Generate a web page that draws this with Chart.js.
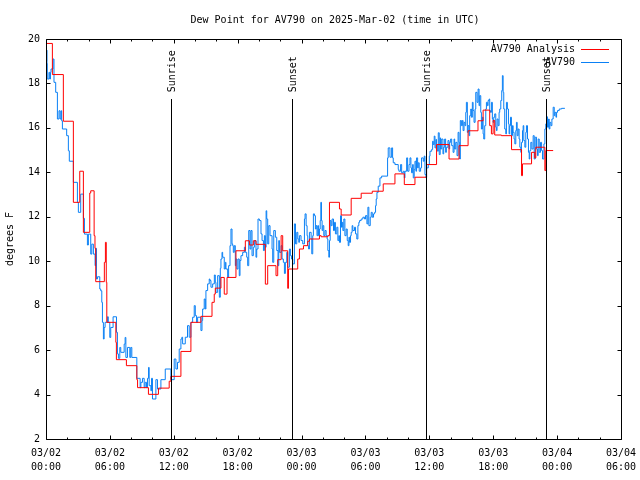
<!DOCTYPE html>
<html><head><meta charset="utf-8">
<script src="https://cdn.jsdelivr.net/npm/chart.js@4/dist/chart.umd.min.js"></script>
<style>html,body{margin:0;padding:0;background:#fff;}canvas{display:block;}</style>
</head><body>
<canvas id="c" width="640" height="480"></canvas>
<script>
// ---- data (hours since 2025-03-02 00:00 UTC, dew point in degrees F) ----
const analysisHours = [0,0.6,1.63,2.57,3.17,3.51,4.11,4.2,4.52,4.6,4.67,5.48,5.58,5.66,5.71,6.56,6.61,7.55,8.53,8.6,9.62,10.56,11.57,11.73,12.67,13.61,14.55,15.59,15.8,15.9,16.43,16.74,17.0,17.84,18.72,19.1,19.47,19.72,20.6,20.82,21.6,21.76,22.08,22.23,22.7,22.77,23.64,23.8,24.18,24.58,24.74,25.68,25.84,26.47,26.62,27.56,27.72,28.66,29.6,30.64,31.67,32.77,33.65,34.65,35.74,36.68,37.85,38.79,39.64,40.57,41.05,41.67,41.83,41.99,42.14,42.77,43.72,44.66,44.75,45.6,45.9,46.0,46.85,46.94,47.63];
const analysisDewPoint = [19.8,18.4,16.3,12.65,14.05,11.3,13.07,13.17,11.15,10.58,9.08,9.95,10.85,9.05,7.25,6.35,5.57,5.3,4.67,4.31,4.01,4.29,4.6,4.82,5.94,7.25,7.52,8.15,8.52,8.79,9.27,8.52,9.27,10.47,10.92,10.73,10.92,10.76,8.97,9.8,9.35,10.07,11.15,10.47,8.78,9.65,10.1,10.55,10.7,10.9,11.0,11.15,11.1,11.15,12.65,12.35,12.08,12.83,13.06,13.15,13.48,13.93,13.45,13.78,14.35,15.25,14.6,15.2,15.87,16.32,16.8,16.1,15.73,16.33,15.68,15.65,15.02,13.85,14.38,14.9,14.65,15.13,14.08,14.98,14.98];

const obsHours = [0,0.03,0.06,0.09,0.12,0.28,0.35,0.42,0.47,0.66,0.75,0.91,1.07,1.22,1.32,1.41,1.47,1.54,1.94,2.1,2.19,2.57,2.95,3.04,3.26,3.51,3.61,3.89,3.98,4.2,4.3,4.45,4.61,4.67,4.74,4.83,5.05,5.14,5.24,5.3,5.39,5.46,5.55,5.77,5.85,5.99,6.08,6.3,6.62,6.71,6.8,6.93,7.02,7.34,7.43,7.5,7.65,7.87,7.96,8.06,8.53,8.84,8.91,9.06,9.22,9.31,9.44,9.53,9.63,9.69,9.85,9.91,10.0,10.32,10.47,10.79,11.2,11.73,12.04,12.2,12.35,12.51,12.67,12.76,12.83,13.08,13.29,13.45,13.61,13.77,13.92,14.02,14.14,14.24,14.55,14.65,14.71,14.86,14.96,15.02,15.18,15.33,15.4,15.49,15.65,15.81,15.9,15.96,16.12,16.28,16.37,16.43,16.53,16.59,16.74,16.84,16.9,17.06,17.15,17.28,17.37,17.47,17.53,17.59,17.68,17.78,17.84,17.93,18.03,18.15,18.22,18.31,18.47,18.63,18.72,18.85,18.94,19.04,19.16,19.25,19.35,19.47,19.57,19.72,19.79,19.91,20.04,20.19,20.29,20.42,20.51,20.6,20.67,20.73,20.82,20.92,21.04,21.23,21.29,21.39,21.54,21.67,21.79,21.86,21.92,22.08,22.17,22.29,22.39,22.48,22.61,22.7,22.86,22.95,23.05,23.17,23.33,23.43,23.55,23.65,23.74,23.8,23.95,24.11,24.27,24.33,24.43,24.52,24.58,24.66,24.74,24.9,24.96,25.05,25.11,25.21,25.3,25.37,25.45,25.53,25.6,25.68,25.75,25.81,25.87,25.93,26.0,26.09,26.2,26.31,26.4,26.47,26.56,26.62,26.69,26.78,26.87,27.0,27.09,27.18,27.31,27.41,27.5,27.56,27.66,27.75,27.82,27.88,27.97,28.07,28.19,28.29,28.38,28.45,28.51,28.6,28.66,28.75,28.82,28.97,29.07,29.19,29.29,29.38,29.45,29.6,29.76,29.92,30.01,30.14,30.23,30.32,30.45,30.54,30.64,30.76,30.86,30.95,31.01,31.08,31.2,31.36,31.52,32.08,32.14,32.3,32.46,32.55,32.61,32.77,33.08,33.14,33.3,33.4,33.55,33.65,33.71,33.87,33.96,34.09,34.18,34.27,34.33,34.43,34.49,34.58,34.65,34.74,34.8,34.9,34.96,35.05,35.18,35.27,35.43,35.52,35.59,35.68,35.74,35.9,36.0,36.06,36.22,36.31,36.37,36.46,36.53,36.62,36.68,36.78,36.84,36.93,37.02,37.06,37.16,37.28,37.35,37.44,37.53,37.6,37.75,37.85,37.91,38.0,38.1,38.23,38.32,38.38,38.48,38.6,38.7,38.79,38.85,38.91,39.01,39.1,39.17,39.26,39.35,39.42,39.48,39.57,39.64,39.73,39.79,39.89,39.95,40.04,40.11,40.2,40.3,40.36,40.48,40.58,40.67,40.73,40.83,40.89,40.98,41.05,41.11,41.2,41.3,41.36,41.45,41.52,41.61,41.67,41.74,41.83,41.92,41.99,42.05,42.14,42.24,42.3,42.36,42.46,42.55,42.61,42.71,42.8,42.86,42.93,42.99,43.08,43.18,43.24,43.33,43.43,43.49,43.55,43.62,43.71,43.81,43.87,43.96,44.03,44.12,44.18,44.25,44.34,44.43,44.5,44.59,44.65,44.75,44.81,44.87,44.97,45.06,45.12,45.22,45.31,45.38,45.44,45.53,45.63,45.75,45.85,45.94,46.07,46.16,46.22,46.32,46.44,46.54,46.63,46.76,46.85,46.94,47.01,47.1,47.2,47.26,47.32,47.42,47.51,47.63,47.73,47.79,47.89,47.95,48.04,48.2,48.42,48.73];
const obsDewPoint = [19.6,19.0,19.5,18.9,18.2,18.5,18.2,18.5,18.65,19.1,18.05,17.6,16.4,16.77,16.4,16.77,16.32,15.95,15.65,14.97,14.5,13.55,12.65,12.2,13.02,11.93,11.22,10.73,11.22,10.32,10.77,10.32,9.8,10.58,9.2,9.3,8.75,8.67,8.15,7.25,6.5,7.02,7.25,7.5,7.25,6.57,7.02,7.5,6.8,5.83,5.63,6.12,5.9,6.27,6.57,5.67,6.12,5.67,6.12,5.67,4.73,4.31,4.55,4.73,4.31,4.55,4.31,4.73,5.22,4.4,4.17,4.73,3.8,4.67,4.25,4.67,5.15,4.67,5.6,5.15,5.45,6.05,6.5,6.58,6.28,6.58,7.1,6.58,7.25,7.48,8.0,7.55,7.25,7.48,6.88,7.33,7.85,8.3,7.85,8.68,8.98,9.2,9.13,8.83,8.98,9.38,9.05,8.6,9.35,8.38,9.68,10.1,10.4,10.18,9.65,9.95,9.65,9.28,9.8,10.7,11.45,10.78,10.7,10.4,10.7,9.8,10.1,9.65,10.1,9.35,10.03,10.25,10.4,10.63,10.4,10.18,9.8,11.38,10.55,11.38,10.25,10.63,10.93,10.18,10.55,11.9,11.83,11.23,10.93,10.48,11.15,10.63,12.27,11.9,10.78,11.6,11.15,10.55,9.95,11.38,11.08,10.48,9.8,10.93,10.4,10.7,10.1,9.95,9.45,9.95,10.4,9.73,10.55,10.25,10.1,9.88,11.68,10.78,11.3,11.0,10.85,11.15,10.93,10.78,11.9,12.13,11.6,11.15,10.7,10.55,11.3,11.0,10.33,11.15,12.13,12.05,11.45,11.6,11.15,11.6,11.15,11.45,11.83,12.65,11.83,11.38,11.6,11.15,11.38,11.15,11.0,10.48,10.18,10.93,11.83,11.6,11.9,11.38,11.75,11.23,11.53,10.93,11.15,10.85,12.05,11.53,11.75,11.38,11.9,11.15,11.45,10.93,10.7,11.08,10.85,11.15,11.3,11.6,11.38,11.53,11.23,11.0,11.6,11.75,11.83,11.9,11.98,11.9,12.05,11.68,12.43,11.6,11.98,12.2,11.98,12.13,12.2,12.5,12.8,13.1,13.38,13.75,13.83,14.65,15.1,14.68,15.1,14.65,14.43,14.35,14.13,14.05,14.35,13.98,14.05,13.75,14.05,14.65,14.05,14.35,14.65,14.2,13.98,14.35,13.75,14.13,14.5,14.05,14.65,14.2,14.43,14.05,14.2,14.65,14.5,14.73,13.9,13.75,14.2,14.35,14.73,14.95,15.03,15.4,15.25,15.63,15.1,15.48,15.25,14.95,15.78,14.8,15.55,15.05,15.5,14.83,15.13,15.5,14.9,15.13,15.43,15.05,15.35,15.5,15.2,14.9,15.5,15.05,15.35,14.75,15.8,15.35,14.6,16.33,16.1,16.33,15.88,16.25,16.1,16.7,17.15,15.8,16.1,15.65,16.55,16.85,16.48,17.15,16.78,16.25,16.85,17.6,17.15,17.75,17.0,17.45,16.7,15.95,16.48,15.73,15.5,16.1,16.85,17.15,17.0,17.23,17.3,16.78,16.7,17.15,16.4,16.25,16.48,16.63,16.03,15.88,16.4,16.1,16.7,16.85,17.23,17.68,18.35,17.6,16.85,15.95,15.73,17.15,16.85,16.18,15.73,16.1,16.48,15.65,16.1,15.8,15.5,15.28,15.88,16.25,15.65,15.95,15.5,15.13,14.9,15.35,15.88,16.1,15.43,15.13,15.8,16.1,15.5,14.9,14.6,14.98,15.35,15.05,15.65,14.6,15.58,15.05,14.75,15.5,14.9,15.35,14.98,14.6,15.28,15.95,16.18,16.5,16.03,16.4,15.95,16.25,16.1,16.4,16.93,16.55,16.7,16.48,16.7,16.78,16.85,16.88,16.88];

const tickDates = ['03/02','03/02','03/02','03/02','03/03','03/03','03/03','03/03','03/04','03/04'];
const tickTimes = ['00:00','06:00','12:00','18:00','00:00','06:00','12:00','18:00','00:00','06:00'];
const eventHours = [11.77, 23.07, 35.72, 46.95];
const eventLabels = ['Sunrise','Sunset','Sunrise','Sunset'];
const seriesNames = ['AV790 Analysis','AV790'];
const titleText = 'Dew Point for AV790 on 2025-Mar-02 (time in UTC)';
const yTitle = 'degrees F';

const FONT = '"DejaVu Sans Mono", "Liberation Mono", monospace';
const COLORS = ['#ff0000', '#0a80f5'];

const gnuplotDecor = {
  id: 'gnuplotDecor',
  afterDatasetsDraw(chart) {
    const {ctx, chartArea: a, scales: {x, y}} = chart;
    ctx.save();
    ctx.strokeStyle = '#000';
    ctx.lineWidth = 1;
    const L = a.left + 0.5, R = a.right + 0.5, T = a.top + 0.5, B = a.bottom + 0.5;
    ctx.beginPath();
    ctx.moveTo(L, T); ctx.lineTo(R, T); ctx.lineTo(R, B); ctx.lineTo(L, B); ctx.closePath();
    for (let h = 0; h <= 54; h += 2) {
      const px = Math.round(x.getPixelForValue(h)) + 0.5;
      const len = (h % 6 === 0) ? 4 : 2;
      ctx.moveTo(px, B); ctx.lineTo(px, B - len);
      ctx.moveTo(px, T); ctx.lineTo(px, T + len);
    }
    for (let v = 2; v <= 20; v += 2) {
      const py = Math.round(y.getPixelForValue(v)) + 0.5;
      ctx.moveTo(L, py); ctx.lineTo(L + 4, py);
      ctx.moveTo(R, py); ctx.lineTo(R - 4, py);
    }
    ctx.stroke();
    ctx.beginPath();
    eventHours.forEach(h => {
      const px = Math.round(x.getPixelForValue(h)) + 0.5;
      ctx.moveTo(px, y.getPixelForValue(17.3));
      ctx.lineTo(px, B);
    });
    ctx.stroke();
    ctx.fillStyle = '#000';
    ctx.font = '10px ' + FONT;
    eventHours.forEach((h, i) => {
      const px = Math.round(x.getPixelForValue(h)) + 0.5;
      ctx.save();
      ctx.translate(px + 1, y.getPixelForValue(17.6));
      ctx.rotate(-Math.PI / 2);
      ctx.textAlign = 'left';
      ctx.textBaseline = 'middle';
      ctx.fillText(eventLabels[i], 0, 0);
      ctx.restore();
    });
    ctx.textAlign = 'right';
    ctx.textBaseline = 'middle';
    const legY = [49.5, 62.5];
    seriesNames.forEach((n, i) => {
      ctx.fillStyle = '#000';
      ctx.fillText(n, 575, legY[i]);
      ctx.beginPath();
      ctx.strokeStyle = COLORS[i];
      ctx.moveTo(581, Math.round(legY[i]) - 0.5);
      ctx.lineTo(609, Math.round(legY[i]) - 0.5);
      ctx.stroke();
    });
    ctx.fillStyle = '#000';
    ctx.textAlign = 'center';
    ctx.textBaseline = 'middle';
    ctx.fillText(titleText, 335, 20);
    ctx.save();
    ctx.translate(10, (a.top + a.bottom) / 2);
    ctx.rotate(-Math.PI / 2);
    ctx.fillText(yTitle, 0, 0);
    ctx.restore();
    ctx.restore();
  }
};

const toPoints = (hs, vs) => hs.map((h, i) => ({x: h, y: vs[i]}));

new Chart(document.getElementById('c'), {
  type: 'line',
  data: {
    datasets: [
      {label: seriesNames[0], data: toPoints(analysisHours, analysisDewPoint), borderColor: COLORS[0], borderWidth: 1, pointRadius: 0, stepped: 'before', fill: false},
      {label: seriesNames[1], data: toPoints(obsHours, obsDewPoint), borderColor: COLORS[1], borderWidth: 1, pointRadius: 0, stepped: 'before', fill: false}
    ]
  },
  options: {
    responsive: false,
    devicePixelRatio: 1,
    animation: false,
    layout: {padding: {top: 39, right: 19, left: 0, bottom: 0}},
    plugins: {legend: {display: false}, title: {display: false}, tooltip: {enabled: false}},
    scales: {
      x: {
        type: 'linear', min: 0, max: 54,
        afterFit: s => { s.height = 41; s.paddingLeft = 0; s.paddingRight = 0; },
        grid: {display: false, drawTicks: false},
        border: {display: false},
        ticks: {
          stepSize: 6, padding: 7, autoSkip: false, maxRotation: 0, color: '#000',
          font: {family: FONT, size: 10, lineHeight: 1.4},
          callback: v => { const i = Math.round(v / 6); return [tickDates[i], tickTimes[i]]; }
        }
      },
      y: {
        type: 'linear', min: 2, max: 20,
        afterFit: s => { s.width = 46; s.paddingTop = 0; s.paddingBottom = 0; },
        grid: {display: false, drawTicks: false},
        border: {display: false},
        ticks: {stepSize: 2, padding: 6, color: '#000', font: {family: FONT, size: 10}}
      }
    }
  },
  plugins: [gnuplotDecor]
});
</script>
</body></html>
